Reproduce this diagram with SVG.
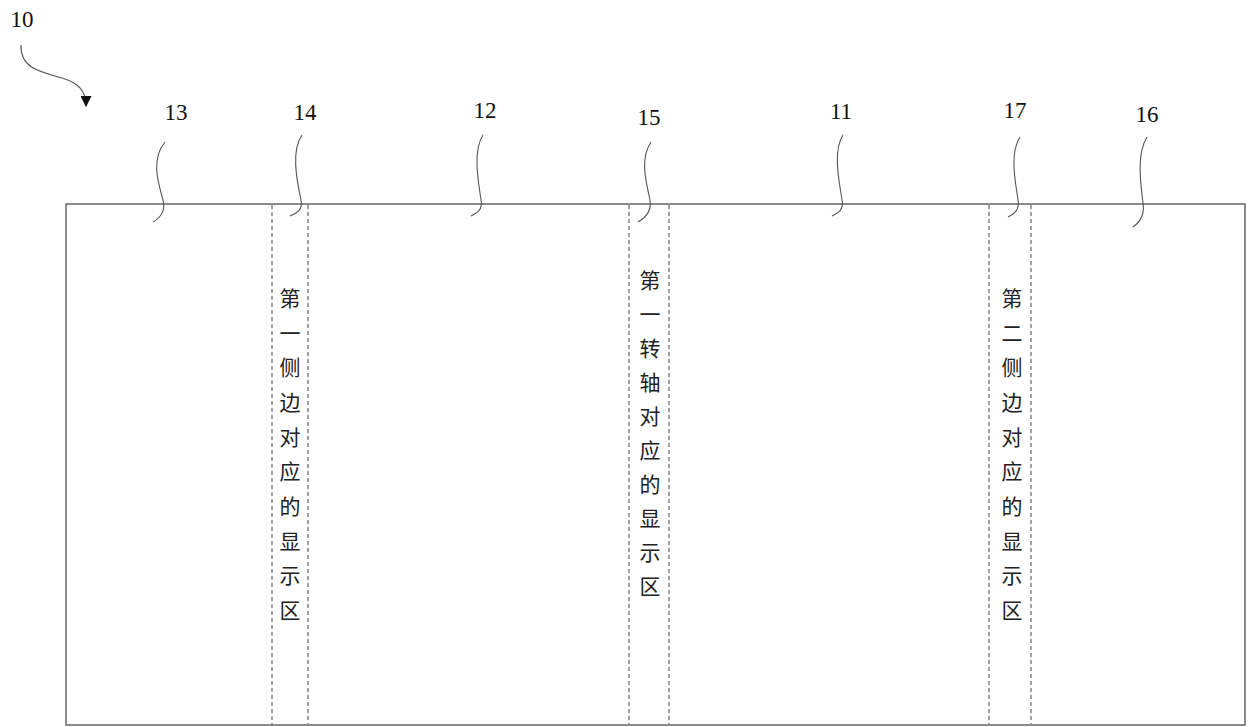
<svg xmlns="http://www.w3.org/2000/svg" width="1250" height="727" viewBox="0 0 1250 727">
<style>
.num{font-family:"Liberation Serif",serif;font-size:23px;fill:#111;text-anchor:middle}
.cjk{font-family:"Noto Sans CJK SC",sans-serif;font-size:21px;fill:#222;text-anchor:middle;font-weight:400}
.lead{fill:none;stroke:#555;stroke-width:1.1}
.dash{stroke:#444;stroke-width:1;stroke-dasharray:4,3}
</style>
<defs>
<marker id="ah" viewBox="0 0 10 10" refX="9" refY="5" markerWidth="11" markerHeight="11" orient="auto" markerUnits="userSpaceOnUse">
<path d="M0,0 L10,5 L0,10 Z" fill="#111"/>
</marker>
</defs>
<rect width="1250" height="727" fill="#fff"/>
<g id="panel">
<rect x="66" y="204" width="1179" height="521" fill="none" stroke="#666" stroke-width="1.5"/>
</g>
<g id="n14">
<line class="dash" x1="272" y1="205" x2="272" y2="724"/>
<line class="dash" x1="308" y1="205" x2="308" y2="724"/>
<text class="cjk"><tspan x="290" y="306">第</tspan><tspan x="290" y="341">一</tspan><tspan x="290" y="375">侧</tspan><tspan x="290" y="410">边</tspan><tspan x="290" y="445">对</tspan><tspan x="290" y="479">应</tspan><tspan x="290" y="514">的</tspan><tspan x="290" y="549">显</tspan><tspan x="290" y="583">示</tspan><tspan x="290" y="618">区</tspan></text>
</g>
<g id="n15">
<line class="dash" x1="629" y1="205" x2="629" y2="724"/>
<line class="dash" x1="669" y1="205" x2="669" y2="724"/>
<text class="cjk"><tspan x="650" y="288">第</tspan><tspan x="650" y="322">一</tspan><tspan x="650" y="356">转</tspan><tspan x="650" y="390">轴</tspan><tspan x="650" y="424">对</tspan><tspan x="650" y="458">应</tspan><tspan x="650" y="492">的</tspan><tspan x="650" y="526">显</tspan><tspan x="650" y="560">示</tspan><tspan x="650" y="594">区</tspan></text>
</g>
<g id="n17">
<line class="dash" x1="989" y1="205" x2="989" y2="724"/>
<line class="dash" x1="1031" y1="205" x2="1031" y2="724"/>
<text class="cjk"><tspan x="1012" y="306">第</tspan><tspan x="1012" y="341">二</tspan><tspan x="1012" y="375">侧</tspan><tspan x="1012" y="410">边</tspan><tspan x="1012" y="445">对</tspan><tspan x="1012" y="479">应</tspan><tspan x="1012" y="514">的</tspan><tspan x="1012" y="549">显</tspan><tspan x="1012" y="583">示</tspan><tspan x="1012" y="618">区</tspan></text>
</g>
<g id="labels">
<text class="num" x="22" y="27">10</text>
<text class="num" x="176" y="120">13</text>
<text class="num" x="305" y="120">14</text>
<text class="num" x="485" y="118">12</text>
<text class="num" x="649" y="125">15</text>
<text class="num" x="841" y="119">11</text>
<text class="num" x="1015" y="118">17</text>
<text class="num" x="1147" y="122">16</text>
</g>
<g id="connectors">
<path class="lead" d="M21,45 C20,68 40,72 62,78 C78,83 86,90 86,106" marker-end="url(#ah)"/>
<path class="lead" d="M165,142 C150,160 159,185 163,200 C166,212 160,218 153,222"/>
<path class="lead" d="M302,135 C290,152 298,185 301,200 C303,210 297,213 290,216"/>
<path class="lead" d="M483,135 C472,152 479,185 481,200 C483,210 477,213 471,216"/>
<path class="lead" d="M651,142 C639,160 647,185 650,200 C652,212 645,218 638,222"/>
<path class="lead" d="M843,135 C832,152 840,185 842,200 C844,210 838,213 832,216"/>
<path class="lead" d="M1020,137 C1009,154 1016,185 1018,200 C1020,210 1014,214 1008,217"/>
<path class="lead" d="M1147,137 C1136,155 1141,185 1143,203 C1145,215 1140,222 1133,227"/>
</g>
</svg>
